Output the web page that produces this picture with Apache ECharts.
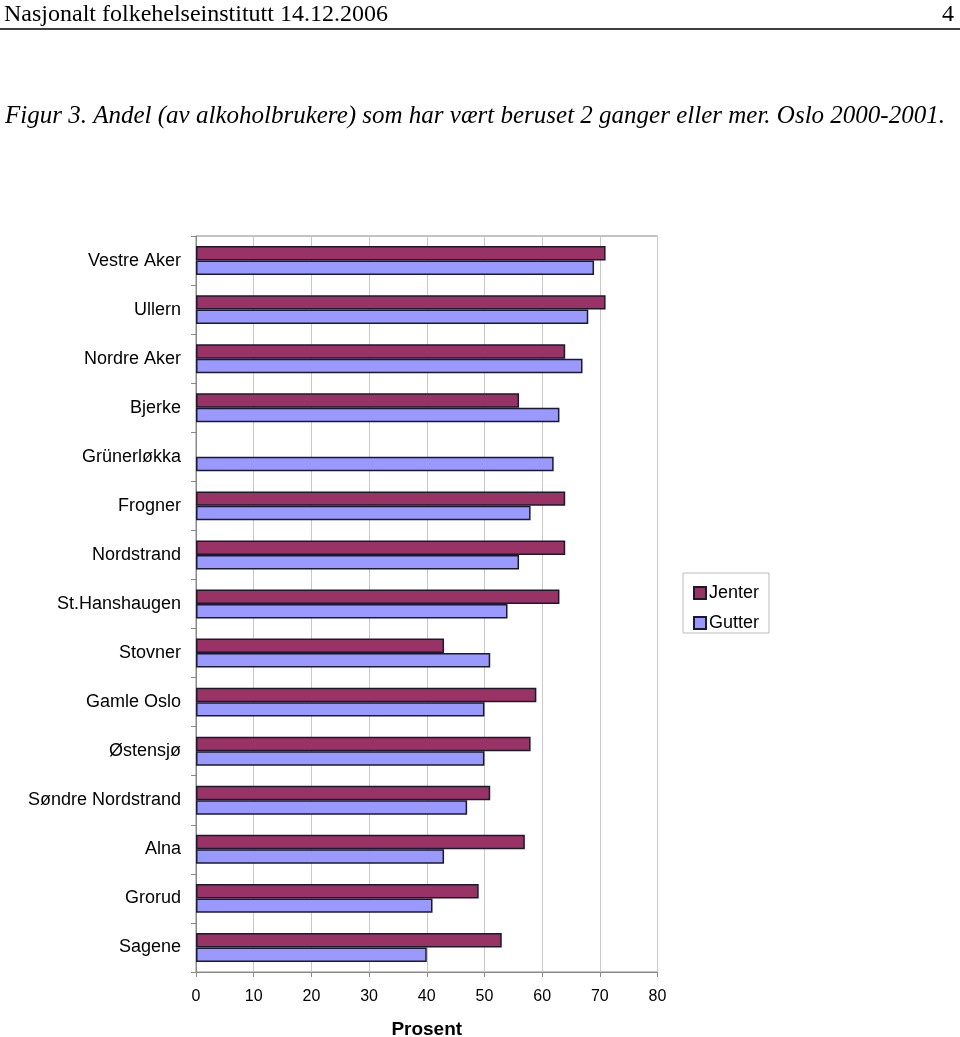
<!DOCTYPE html>
<html>
<head>
<meta charset="utf-8">
<script src="https://cdn.jsdelivr.net/npm/echarts@6/dist/echarts.min.js"></script>
<style>
html,body{margin:0;padding:0;background:#fff;}
#chart{width:960px;height:1037px;}
</style>
</head>
<body>
<div id="chart"></div>
<script>
const categories = ['Vestre Aker','Ullern','Nordre Aker','Bjerke','Grünerløkka','Frogner','Nordstrand','St.Hanshaugen','Stovner','Gamle Oslo','Østensjø','Søndre Nordstrand','Alna','Grorud','Sagene'];
const jenter = [71, 71, 64, 56, null, 64, 64, 63, 43, 59, 58, 51, 57, 49, 53];
const gutter = [69, 68, 67, 63, 62, 58, 56, 54, 51, 50, 50, 47, 43, 41, 40];
const xTicks = [0, 10, 20, 30, 40, 50, 60, 70, 80];
const headerText = 'Nasjonalt folkehelseinstitutt 14.12.2006';
const pageNumber = '4';
const figTitle = 'Figur 3. Andel (av alkoholbrukere) som har vært beruset 2 ganger eller mer. Oslo 2000-2001.';
const xName = 'Prosent';

const chart = echarts.init(document.getElementById('chart'));
chart.setOption({
  animation: false,
  backgroundColor: '#fff',
  graphic: [
    {type:'text', left: 4, top: 3, style:{text: headerText, font: '24px "Liberation Serif", "Times New Roman", serif', fill:'#000'}},
    {type:'text', right: 6, top: 3, style:{text: pageNumber, font: '24px "Liberation Serif", "Times New Roman", serif', fill:'#000'}},
    {type:'line', shape:{x1:0, y1:29, x2:960, y2:29}, style:{stroke:'#000', lineWidth:1.5}},
    {type:'text', left: 5, top: 104, style:{text: figTitle, font: 'italic 25px "Liberation Serif", "Times New Roman", serif', fill:'#000'}},
    {type:'rect', shape:{x:683, y:573, width:86, height:60}, style:{fill:'#fff', stroke:'#bbb', lineWidth:1}, z:-1}
  ],
  legend: {
    orient: 'vertical',
    left: 688, top: 579,
    itemWidth: 12, itemHeight: 12,
    itemGap: 12,
    icon: 'rect',
    textStyle: {fontFamily: '"Liberation Sans", Arial, sans-serif', fontSize: 18, color: '#000', padding: [0,0,0,-2]},
    data: ['Jenter','Gutter']
  },
  grid: {left: 196, top: 236, width: 461.5, height: 736, show: true, borderColor: '#888', borderWidth: 1, containLabel: false, outerBoundsMode: 'none'},
  xAxis: {
    type: 'value', min: 0, max: 80, interval: 10,
    name: xName, nameLocation: 'middle', nameGap: 48,
    nameTextStyle: {fontFamily: '"Liberation Sans", Arial, sans-serif', fontSize: 19, fontWeight: 'bold', color: '#000'},
    axisLine: {show: true, lineStyle: {color: '#888'}},
    axisTick: {show: true, length: 5, lineStyle: {color: '#888'}},
    axisLabel: {fontFamily: '"Liberation Sans", Arial, sans-serif', fontSize: 16, color: '#000', margin: 17,
      formatter: v => xTicks.includes(v) ? String(v) : ''},
    splitLine: {show: true, lineStyle: {color: '#c8c8c8', width: 1}}
  },
  yAxis: {
    type: 'category', data: categories, inverse: true,
    axisLine: {show: true, lineStyle: {color: '#888'}},
    axisTick: {show: true, length: 5, lineStyle: {color: '#888'}},
    axisLabel: {fontFamily: '"Liberation Sans", Arial, sans-serif', fontSize: 18, color: '#000', margin: 15}
  },
  series: [
    {name: 'Jenter', type: 'bar', data: jenter, barGap: '0%', barCategoryGap: '41%',
      itemStyle: {color: '#993366', borderColor: '#1a1a2e', borderWidth: 1.5}},
    {name: 'Gutter', type: 'bar', data: gutter, barGap: '0%', barCategoryGap: '41%',
      itemStyle: {color: '#9999ff', borderColor: '#1a1a2e', borderWidth: 1.5}}
  ]
});
</script>
</body>
</html>
